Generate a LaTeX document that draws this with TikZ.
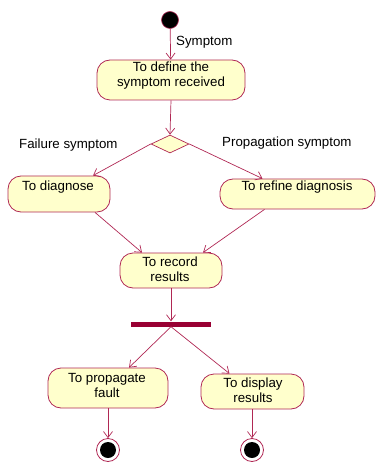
\documentclass[tikz,border=0pt]{standalone}
\usepackage{fontspec}
\setmainfont{Liberation Sans}
\usetikzlibrary{arrows.meta,shapes.geometric}
\definecolor{umlline}{RGB}{176,40,84}
\definecolor{umlfill}{RGB}{255,255,204}
\definecolor{umlbar}{RGB}{153,0,51}
\begin{document}
\begin{tikzpicture}[x=1pt,y=-1pt,
  act/.style={draw=umlline,fill=umlfill,line width=0.8pt,rounded corners=13pt,inner sep=0pt},
  txt/.style={inner sep=0pt,align=center,font=\fontsize{13.3}{15}\selectfont},
  lbl/.style={inner sep=0pt,font=\fontsize{13.3}{15}\selectfont},
  flow/.style={draw=umlline,line width=0.7pt,-{Straight Barb[length=6pt,width=9pt]}},
  startdot/.style={circle,fill=black,draw=umlline,line width=0.6pt,minimum size=17pt,inner sep=0pt},
  endring/.style={circle,draw=umlline,fill=white,line width=0.8pt,minimum size=23pt,inner sep=0pt},
  enddot/.style={circle,fill=black,minimum size=16pt,inner sep=0pt},
  decision/.style={diamond,draw=umlline,fill=umlfill,line width=0.7pt,minimum width=38pt,minimum height=18pt,inner sep=0pt,aspect=2.1},
  syncbar/.style={fill=umlbar,minimum width=80pt,minimum height=5pt,inner sep=0pt}
]
\useasboundingbox (0,0) rectangle (376,462);

% start
\node[startdot] (start) at (170,20) {};

% activities
\node[act,minimum width=148pt,minimum height=40pt] (define) at (171,80) {};
\node[txt] (definet) at (171,76) {To define the\\symptom received};

\node[decision] (dec) at (170,144) {};

\node[act,minimum width=102pt,minimum height=36pt] (diag) at (59,194) {};
\node[txt] (diagt) at (58,187) {To diagnose};

\node[act,minimum width=155pt,minimum height=30pt] (ref) at (297.5,194) {};
\node[txt] (reft) at (297,187) {To refine diagnosis};

\node[act,minimum width=102pt,minimum height=35pt] (rec) at (171,270.5) {};
\node[txt] (rect) at (170,269) {To record\\results};

\node[syncbar] (bar) at (171,324) {};

\node[act,minimum width=120pt,minimum height=40pt] (prop) at (108,388) {};
\node[txt] (propt) at (107,385) {To propagate\\fault};

\node[act,minimum width=103pt,minimum height=35pt] (disp) at (252.5,391.5) {};
\node[txt] (dispt) at (253,390) {To display\\results};

% end states
\node[endring] (end1) at (108,450) {};
\node[enddot] (end1d) at (108,450) {};
\node[endring] (end2) at (252,450) {};
\node[enddot] (end2d) at (252,450) {};

% labels
\node[lbl,anchor=west] (symlbl) at (176,42) {Symptom};
\node[lbl,anchor=west] (faillbl) at (19,145) {Failure symptom};
\node[lbl,anchor=west] (proplbl) at (222,143) {Propagation symptom};

% connectors
\draw[flow] (start) -- (define);
\draw[flow] (define.south) -- (dec.north);
\draw[flow] (dec.west) -- ([xshift=34pt]diag.north);
\draw[flow] (dec.east) -- ([xshift=-35pt]ref.north);
\draw[flow] ([xshift=36pt]diag.south) -- ([xshift=-29pt]rec.north);
\draw[flow] ([xshift=-33pt]ref.south) -- ([xshift=32pt]rec.north);
\draw[flow] (rec.south) -- (bar.north);
\draw[flow] (bar.south) -- ([xshift=21pt]prop.north);
\draw[flow] (bar.south) -- ([xshift=-23pt]disp.north);
\draw[flow] (prop.south) -- (end1.north);
\draw[flow] (disp.south -| end2) -- (end2.north);
\end{tikzpicture}
\end{document}
